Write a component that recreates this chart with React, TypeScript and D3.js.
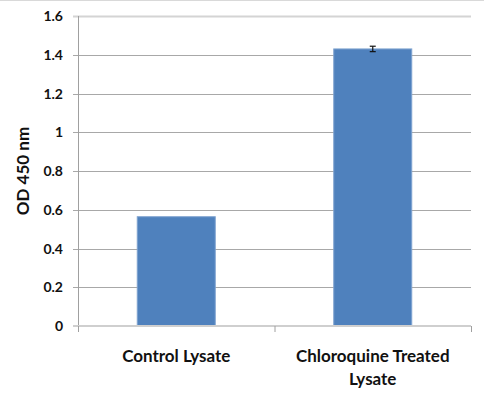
import React, { useEffect, useRef } from 'react'
import * as d3 from 'd3'

const categories = ['Control Lysate', 'Chloroquine Treated Lysate']
const values = [0.564, 1.43]
const errors = [0, 0.014]
const yTicks = [0, 0.2, 0.4, 0.6, 0.8, 1, 1.2, 1.4, 1.6]
const yTitle = 'OD 450 nm'

const W = 484
const H = 395
const margin = { top: 16, right: 13, bottom: 69, left: 78 }
const FONT = 'Lato, "Open Sans", sans-serif'

const App = () => {
    const svgRef = useRef<SVGSVGElement>(null)

    useEffect(() => {
        const svg = d3.select(svgRef.current)
        svg.selectAll('*').remove()

        const x = d3.scaleBand<string>().domain(categories).range([margin.left, W - margin.right])
        const y = d3.scaleLinear().domain([0, 1.6]).range([H - margin.bottom, margin.top])

        // top border line
        svg.append('line')
            .attr('x1', 0).attr('x2', W).attr('y1', 0.5).attr('y2', 0.5)
            .attr('stroke', '#d9d9d9').attr('stroke-width', 1)

        // gridlines
        svg.append('g')
            .selectAll('line')
            .data(yTicks.filter(t => t > 0))
            .join('line')
            .attr('x1', margin.left - 5)
            .attr('x2', W - margin.right)
            .attr('y1', d => Math.round(y(d)) + 0.5)
            .attr('y2', d => Math.round(y(d)) + 0.5)
            .attr('stroke', d => (d === 1.6 ? '#d4d4d4' : '#a8a8a8'))
            .attr('stroke-width', d => (d === 1.6 ? 2 : 1))

        // y axis line
        svg.append('line')
            .attr('x1', margin.left + 0.5).attr('x2', margin.left + 0.5)
            .attr('y1', margin.top).attr('y2', H - margin.bottom + 6)
            .attr('stroke', '#a0a0a0')

        // tick labels
        svg.append('g')
            .selectAll('text')
            .data(yTicks)
            .join('text')
            .attr('x', margin.left - 15)
            .attr('y', d => y(d))
            .attr('dy', '0.36em')
            .attr('text-anchor', 'end')
            .attr('font-family', FONT)
            .attr('font-weight', 'bold')
            .attr('font-size', 14)
            .attr('fill', '#111')
            .text(d => String(d))

        // bars
        const bw = 78
        svg.append('g')
            .selectAll('rect')
            .data(categories)
            .join('rect')
            .attr('x', d => x(d)! + x.bandwidth() / 2 - bw / 2)
            .attr('y', (d, i) => y(values[i]))
            .attr('width', bw)
            .attr('height', (d, i) => y(0) - y(values[i]))
            .attr('fill', '#4f81bd')
            .attr('stroke', '#7fa3d0')
            .attr('stroke-width', 1)

        // x axis line at 0
        svg.append('line')
            .attr('x1', margin.left - 5).attr('x2', W - margin.right)
            .attr('y1', y(0)).attr('y2', y(0))
            .attr('stroke', '#cfcfcf').attr('stroke-width', 2)

        // category ticks
        svg.append('g')
            .selectAll('line')
            .data([margin.left, ...categories.map(c => x(c)! + x.bandwidth())])
            .join('line')
            .attr('x1', d => d + 0.5).attr('x2', d => d + 0.5)
            .attr('y1', y(0)).attr('y2', y(0) + 6)
            .attr('stroke', '#a0a0a0')

        // error bars
        const eb = svg.append('g').attr('stroke', '#111').attr('stroke-width', 1.2)
        categories.forEach((c, i) => {
            if (!errors[i]) return
            const cx = x(c)! + x.bandwidth() / 2
            const top = y(values[i] + errors[i])
            const bot = y(values[i] - errors[i])
            eb.append('line').attr('x1', cx).attr('x2', cx).attr('y1', top).attr('y2', bot)
            eb.append('line').attr('x1', cx - 3).attr('x2', cx + 3).attr('y1', top).attr('y2', top)
            eb.append('line').attr('x1', cx - 3).attr('x2', cx + 3).attr('y1', bot).attr('y2', bot)
        })

        // category labels
        const labelLines: Record<string, string[]> = {
            'Control Lysate': ['Control Lysate'],
            'Chloroquine Treated Lysate': ['Chloroquine Treated', 'Lysate'],
        }
        categories.forEach(c => {
            const t = svg.append('text')
                .attr('x', x(c)! + x.bandwidth() / 2)
                .attr('y', 362)
                .attr('text-anchor', 'middle')
                .attr('font-family', FONT)
                .attr('font-weight', 'bold')
                .attr('font-size', 17)
                .attr('fill', '#111')
            labelLines[c].forEach((l, j) => {
                t.append('tspan')
                    .attr('x', x(c)! + x.bandwidth() / 2)
                    .attr('dy', j === 0 ? 0 : 22.5)
                    .text(l)
            })
        })

        // y title
        svg.append('text')
            .attr('transform', `translate(29, ${(margin.top + H - margin.bottom) / 2}) rotate(-90)`)
            .attr('text-anchor', 'middle')
            .attr('font-family', FONT)
            .attr('font-weight', 'bold')
            .attr('font-size', 17)
            .attr('fill', '#111')
            .text(yTitle)
    }, [])

    return (
        <svg
            ref={svgRef}
            width={W}
            height={H}
            style={{ position: 'fixed', left: 0, top: 0, background: '#fff' }}
        />
    )
}

export default App
